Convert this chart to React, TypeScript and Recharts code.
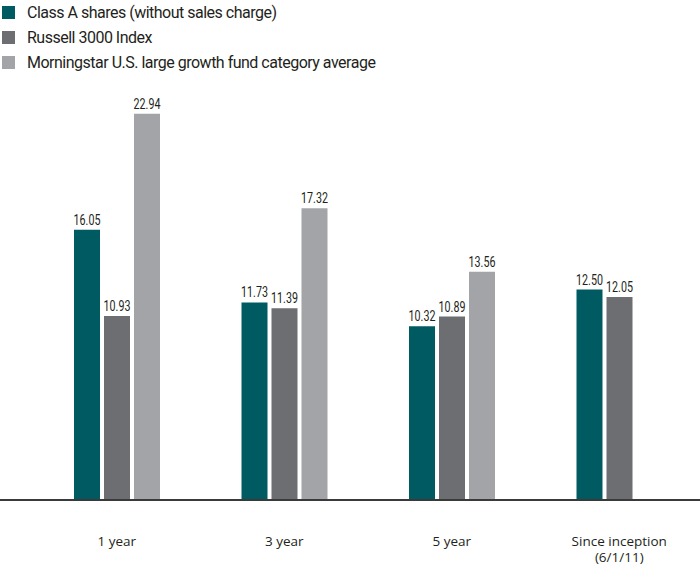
import React from 'react';
import { BarChart, Bar, XAxis, YAxis, Legend, LabelList } from 'recharts';

const categories = ['1 year', '3 year', '5 year', 'Since inception\n(6/1/11)'];
const classA = [16.05, 11.73, 10.32, 12.5];
const russell = [10.93, 11.39, 10.89, 12.05];
const morningstar: (number | null)[] = [22.94, 17.32, 13.56, null];

const seriesNames = [
  'Class A shares (without sales charge)',
  'Russell 3000 Index',
  'Morningstar U.S. large growth fund category average',
];
const seriesKeys = ['classA', 'russell', 'morningstar'];
const colors = ['#005a61', '#6d6e72', '#a2a4a7'];

const data = categories.map((c, i) => ({
  name: c,
  classA: classA[i],
  russell: russell[i],
  morningstar: morningstar[i],
}));

const CategoryTick = (props: any) => {
  const { x, y, payload } = props;
  const lines = String(payload.value).split('\n');
  return (
    <g>
      {lines.map((l, i) => (
        <text
          key={i}
          x={x}
          y={y + 46 + i * 16}
          textAnchor="middle"
          fontFamily="'Open Sans', sans-serif"
          fontSize={13.5}
          fill="#231f20"
        >
          {l}
        </text>
      ))}
    </g>
  );
};

const ValueLabel = (props: any) => {
  const { x, y, width, value } = props;
  if (value == null) return null;
  const cx = Number(x) + Number(width) / 2;
  return (
    <text
      transform={`translate(${cx},${Number(y) - 5}) scale(0.74,1)`}
      x={0}
      y={0}
      textAnchor="middle"
      fontFamily="Roboto, sans-serif"
      fontSize={14.5}
      fill="#231f20"
    >
      {Number(value).toFixed(2)}
    </text>
  );
};

const LegendContent = () => (
  <div style={{ fontFamily: 'Roboto, sans-serif', fontSize: 16, letterSpacing: -0.5, color: '#231f20' }}>
    {seriesNames.map((n, i) => (
      <div key={n} style={{ display: 'flex', alignItems: 'center', height: 25 }}>
        <span
          style={{ display: 'inline-block', width: 13, height: 13, background: colors[i], marginLeft: 2, marginRight: 12 }}
        />
        <span style={{ whiteSpace: 'nowrap' }}>{n}</span>
      </div>
    ))}
  </div>
);

export default function App() {
  return (
    <div style={{ position: 'absolute', left: 0, top: 0, width: 700, height: 571, overflow: 'hidden', background: '#fff' }}>
      <BarChart
        width={703}
        height={571}
        data={data}
        margin={{ top: 79, right: 0, left: 0, bottom: 21 }}
        barSize={26}
        barGap={4}
      >
        <XAxis
          dataKey="name"
          interval={0}
          tickLine={false}
          tickSize={0}
          tickMargin={0}
          height={50}
          padding={{ left: 33, right: 0 }}
          axisLine={{ stroke: '#3a3a3a', strokeWidth: 2 }}
          tick={<CategoryTick />}
        />
        <YAxis hide domain={[0, 25]} />
        <Legend
          layout="horizontal"
          verticalAlign="middle"
          align="center"
          wrapperStyle={{ top: 0, left: 0, width: 'auto', height: 'auto' }}
          content={<LegendContent />}
        />
        {seriesKeys.map((k, i) => (
          <Bar key={k} dataKey={k} fill={colors[i]} isAnimationActive={false}>
            <LabelList dataKey={k} content={<ValueLabel />} />
          </Bar>
        ))}
      </BarChart>
    </div>
  );
}
